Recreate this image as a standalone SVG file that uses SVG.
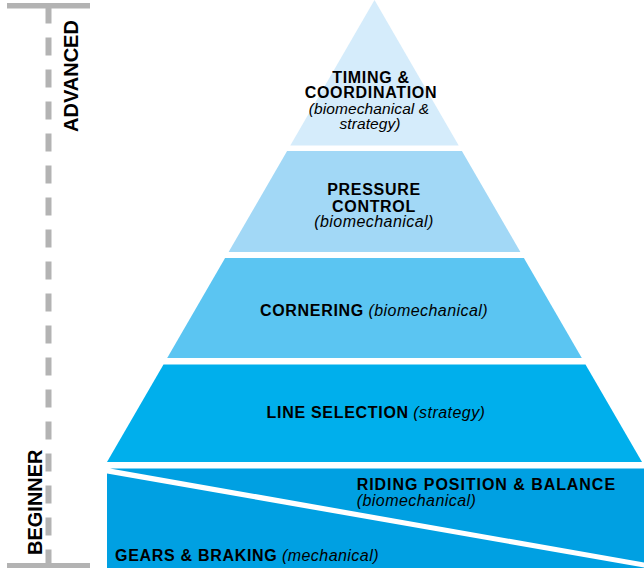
<svg xmlns="http://www.w3.org/2000/svg" width="644" height="568" viewBox="0 0 644 568">
  <style>
    text { font-family: "Liberation Sans", Arial, Helvetica, sans-serif; fill: #000; }
    .b { font-weight: bold; font-size: 16px; letter-spacing: 0.7px; }
    .i { font-style: italic; font-size: 16px; letter-spacing: 0.45px; font-weight: normal; }
    .ax { font-weight: bold; font-size: 20px; }
    .grey { fill: #b3b3b3; }
    .t1 { fill: #d5ecfb; }
    .t2 { fill: #a2d8f6; }
    .t3 { fill: #5bc5f2; }
    .t4 { fill: #00afec; }
    .t5 { fill: #00a0e2; }
  </style>
  <rect width="644" height="568" fill="#ffffff"/>

  <g id="axis">
    <rect class="grey" x="7" y="3" width="83" height="5.5"/>
    <rect class="grey" x="7" y="563" width="83" height="5"/>
    <line x1="48.5" y1="5.5" x2="48.5" y2="565.5" stroke="#b3b3b3" stroke-width="6" stroke-dasharray="18 14"/>
    <text class="ax" transform="translate(78,132) rotate(-90)">ADVANCED</text>
    <text class="ax" transform="translate(42,555) rotate(-90)">BEGINNER</text>
  </g>

  <g id="timing">
    <polygon class="t1" points="374.5,0 458.7,145.5 290.3,145.5"/>
    <text class="b" x="371" y="82.5" text-anchor="middle">TIMING &amp;</text>
    <text class="b" x="371" y="98" text-anchor="middle">COORDINATION</text>
    <text class="i" x="369" y="113.5" text-anchor="middle" style="font-size:15.5px;letter-spacing:0.1px">(biomechanical &amp;</text>
    <text class="i" x="370" y="129" text-anchor="middle" style="font-size:15.5px;letter-spacing:0.1px">strategy)</text>
  </g>

  <g id="pressure">
    <polygon class="t2" points="287.1,151 461.9,151 520.4,252 228.6,252"/>
    <text class="b" x="374" y="195" text-anchor="middle">PRESSURE</text>
    <text class="b" x="374" y="211.5" text-anchor="middle">CONTROL</text>
    <text class="i" x="374" y="227.3" text-anchor="middle">(biomechanical)</text>
  </g>

  <g id="cornering">
    <polygon class="t3" points="225.1,258 523.9,258 581.8,358 167.2,358"/>
    <text x="374" y="316" text-anchor="middle"><tspan class="b">CORNERING</tspan> <tspan class="i">(biomechanical)</tspan></text>
  </g>

  <g id="line-selection">
    <polygon class="t4" points="163.5,364.5 585.5,364.5 642,462 107,462"/>
    <text x="376" y="417.7" text-anchor="middle"><tspan class="b">LINE SELECTION</tspan> <tspan class="i">(strategy)</tspan></text>
  </g>

  <g id="riding-position">
    <polygon class="t5" points="110,468.5 644,468.5 644,562.5"/>
    <text class="b" x="356.7" y="489.5" style="letter-spacing:0.95px">RIDING POSITION &amp; BALANCE</text>
    <text class="i" x="356.7" y="505.5">(biomechanical)</text>
  </g>

  <g id="gears-braking">
    <polygon class="t5" points="107,473.5 644,567.5 644,568 107,568"/>
    <text x="115" y="561"><tspan class="b">GEARS &amp; BRAKING</tspan> <tspan class="i">(mechanical)</tspan></text>
  </g>
</svg>
